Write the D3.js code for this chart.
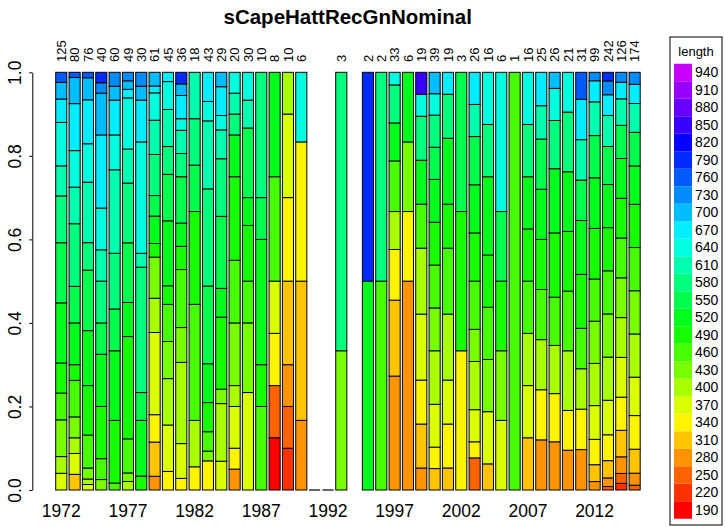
<!DOCTYPE html>
<html>
<head>
<meta charset="utf-8">
<script src="https://cdn.jsdelivr.net/npm/d3@7"></script>
<style>
  body { margin: 0; background: #fff; }
  text { font-family: Arial, "Liberation Sans", sans-serif; }
</style>
</head>
<body>
<svg id="chart" width="725" height="527"></svg>
<script>
const years = d3.range(1972, 2016);
const sampleSize = [125, 80, 76, 40, 60, 49, 30, 61, 45, 36, 18, 43, 29, 20, 30, 10, 8, 10, 6,
  null, null, 3, null, 2, 2, 33, 6, 19, 39, 19, 3, 26, 16, 6, 1, 16, 25, 26, 21, 31, 99, 242, 126, 174];
const lengthBins = d3.range(190, 941, 30);
const yTicks = [0, 0.2, 0.4, 0.6, 0.8, 1.0];
const tickYears = [1972, 1977, 1982, 1987, 1992, 1997, 2002, 2007, 2012];

// [length bin, fish count] per year; [] = sampled but empty, null = no bar
const lengthCounts = [
  [[370,5],[400,5],[430,11],[460,8],[490,9],[520,18],[550,18],[580,14],[610,9],[640,13],[670,7],[700,5],[760,3]],
  [[310,3],[370,4],[400,3],[430,4],[460,7],[490,3],[520,8],[550,7],[580,12],[610,7],[640,7],[670,9],[700,5],[760,1]],
  [[370,1],[400,1],[430,2],[460,6],[490,9],[520,10],[550,11],[580,5],[610,11],[640,7],[670,8],[700,4],[760,1]],
  [[430,1],[460,2],[490,5],[520,5],[550,3],[580,4],[610,3],[640,4],[670,7],[700,4],[730,1],[790,1]],
  [[460,1],[490,9],[520,10],[550,6],[580,8],[610,12],[640,5],[670,5],[700,2],[730,2]],
  [[400,1],[430,1],[460,4],[490,12],[520,4],[550,7],[580,7],[610,4],[640,6],[670,1],[700,1],[730,1]],
  [[490,1],[520,4],[550,2],[580,9],[610,1],[640,8],[670,3],[700,1],[730,1]],
  [[280,2],[310,5],[340,4],[370,12],[400,5],[430,6],[490,2],[520,4],[550,3],[580,6],[610,5],[640,4],[670,1],[700,2]],
  [[340,2],[370,5],[400,5],[430,4],[460,4],[490,2],[520,7],[550,5],[580,3],[610,4],[640,3],[670,1]],
  [[340,1],[370,3],[400,7],[430,3],[460,5],[490,2],[520,2],[550,4],[580,2],[610,2],[640,1],[670,2],[700,1],[790,1]],
  [[340,1],[400,2],[460,5],[490,4],[550,2],[580,2],[610,2]],
  [[340,3],[430,1],[460,2],[490,3],[520,4],[550,8],[580,10],[610,7],[640,2],[670,3]],
  [[370,2],[400,4],[430,1],[490,5],[520,2],[550,5],[580,4],[610,2],[640,1],[670,2],[700,1]],
  [[280,1],[340,1],[370,2],[400,1],[430,3],[460,3],[490,4],[520,2],[580,1],[610,1],[640,1]],
  [[370,7],[430,5],[460,3],[490,4],[520,2],[550,5],[610,2],[640,2]],
  [[460,2],[490,1],[520,3],[550,1],[580,3]],
  [[190,1],[250,1],[340,1],[370,1],[460,2],[520,2]],
  [[220,1],[250,1],[280,1],[310,2],[340,2],[370,2],[400,1]],
  [[280,1],[310,2],[340,2],[640,1]],
  [],
  [],
  [[430,1],[580,2]],
  null,
  [[520,1],[790,1]],
  [[460,1],[580,1]],
  [[280,9],[310,6],[340,4],[400,3],[460,4],[520,3],[580,3],[640,1]],
  [[280,3],[340,1],[430,1],[520,1]],
  [[280,1],[310,2],[340,2],[370,3],[400,3],[460,2],[520,2],[580,2],[640,1],[850,1]],
  [[310,2],[340,2],[370,4],[400,5],[430,4],[460,4],[490,4],[520,4],[550,3],[580,3],[640,2],[700,2]],
  [[310,1],[340,2],[370,2],[400,3],[460,3],[490,2],[520,3],[580,2],[670,1]],
  [[340,1],[490,1],[550,1]],
  [[250,2],[340,1],[370,2],[400,3],[430,2],[460,3],[490,3],[520,3],[550,3],[610,2],[670,2]],
  [[310,1],[370,2],[430,2],[460,2],[490,2],[520,3],[580,2],[640,2]],
  [[370,1],[430,1],[490,1],[550,1],[640,2]],
  [[460,1]],
  [[310,2],[370,2],[400,2],[460,2],[490,2],[520,2],[580,2],[640,2]],
  [[280,3],[340,3],[400,3],[460,3],[490,3],[520,3],[550,3],[610,2],[670,2]],
  [[280,3],[340,3],[400,3],[460,3],[490,4],[520,4],[580,3],[640,2],[700,1]],
  [[280,2],[340,2],[400,3],[460,3],[490,3],[520,3],[580,3],[640,2]],
  [[280,3],[340,3],[400,3],[460,3],[490,4],[520,4],[550,3],[610,3],[670,3],[760,2]],
  [[280,2],[310,4],[340,6],[370,8],[400,10],[430,10],[460,10],[490,12],[520,12],[550,10],[610,8],[670,5],[730,2]],
  [[250,2],[280,5],[310,10],[340,15],[370,20],[400,25],[430,25],[460,25],[490,25],[520,25],[550,22],[610,18],[670,12],[730,8],[790,5]],
  [[220,2],[250,3],[280,5],[310,8],[340,10],[370,12],[400,12],[430,12],[460,12],[490,12],[520,12],[550,10],[610,8],[670,5],[730,3]],
  [[250,2],[280,5],[310,10],[340,14],[370,16],[400,18],[430,18],[460,18],[490,18],[520,16],[550,14],[610,12],[670,8],[730,5]]
];

const svg = d3.select('#chart');

const x = d3.scaleBand()
  .domain(years)
  .range([53.5, 642.4])
  .paddingInner(1 / 6)
  .paddingOuter(1 / 6);

const y = d3.scaleLinear()
  .domain([0, 1])
  .range([490, 72.3]);

const hue = d3.scaleLinear().domain([190, 940]).range([0, 287.5]);
const colorOf = bin => d3.hsl(hue(bin), 1, 0.5).formatHex();

// stack each year into proportions
const stacked = years.map((yr, i) => {
  const rows = lengthCounts[i];
  if (rows === null) return { year: yr, segs: null };
  const total = d3.sum(rows, r => r[1]);
  let acc = 0;
  const segs = rows.slice().sort((a, b) => a[0] - b[0]).map(([bin, n]) => {
    const y0 = acc / total;
    acc += n;
    return { bin, y0, y1: acc / total };
  });
  return { year: yr, segs };
});

// bars
const bars = svg.append('g').attr('class', 'bars');
stacked.forEach(d => {
  if (d.segs === null) return;
  if (d.segs.length === 0) {
    bars.append('line')
      .attr('x1', x(d.year)).attr('x2', x(d.year) + x.bandwidth())
      .attr('y1', y(0)).attr('y2', y(0))
      .attr('stroke', '#000').attr('stroke-width', 1.2);
    return;
  }
  bars.selectAll(null)
    .data(d.segs)
    .enter()
    .append('rect')
    .attr('x', x(d.year))
    .attr('width', x.bandwidth())
    .attr('y', s => y(s.y1))
    .attr('height', s => y(s.y0) - y(s.y1))
    .attr('fill', s => colorOf(s.bin))
    .attr('stroke', '#000')
    .attr('stroke-width', 1);
});

// sample size labels
svg.append('g')
  .selectAll('text')
  .data(years.map((yr, i) => ({ yr, n: sampleSize[i] })).filter(d => d.n !== null))
  .enter()
  .append('text')
  .attr('transform', d => `translate(${x(d.yr) + x.bandwidth() / 2}, 62) rotate(-90)`)
  .attr('dy', '0.35em')
  .attr('font-size', 13)
  .text(d => d.n);

// y axis
const yAxis = svg.append('g')
  .attr('transform', 'translate(32.3, 0)')
  .call(d3.axisLeft(y).tickValues(yTicks).tickFormat(d3.format('.1f')).tickSize(3).tickSizeOuter(0));
yAxis.select('.domain').attr('stroke', '#000');
yAxis.selectAll('.tick text')
  .attr('x', null).attr('dy', null)
  .attr('transform', 'translate(-17, 0) rotate(-90)')
  .attr('text-anchor', 'middle')
  .attr('dy', '0.35em')
  .attr('font-size', 17.5)
  .attr('fill', '#000');

// year labels
svg.append('g')
  .selectAll('text')
  .data(tickYears)
  .enter()
  .append('text')
  .attr('x', d => x(d) + x.bandwidth() / 2)
  .attr('y', 517)
  .attr('text-anchor', 'middle')
  .attr('font-size', 17.5)
  .text(d => d);

// title
svg.append('text')
  .attr('x', 347.7)
  .attr('y', 24)
  .attr('text-anchor', 'middle')
  .attr('font-size', 20.5)
  .attr('font-weight', 'bold')
  .text('sCapeHattRecGnNominal');

// legend
const legend = svg.append('g');
legend.append('rect')
  .attr('x', 670).attr('y', 37)
  .attr('width', 52).attr('height', 488)
  .attr('fill', 'none').attr('stroke', '#000');
legend.append('text')
  .attr('x', 696).attr('y', 56)
  .attr('text-anchor', 'middle')
  .attr('font-size', 13)
  .text('length');
const legendY = d3.scaleBand()
  .domain(lengthBins.slice().reverse())
  .range([63.75, 518.75]);
legend.selectAll('rect.sw')
  .data(lengthBins)
  .enter()
  .append('rect')
  .attr('class', 'sw')
  .attr('x', 674).attr('width', 18)
  .attr('y', d => legendY(d))
  .attr('height', legendY.bandwidth())
  .attr('fill', d => colorOf(d));
legend.selectAll('text.lab')
  .data(lengthBins)
  .enter()
  .append('text')
  .attr('class', 'lab')
  .attr('x', 695)
  .attr('y', d => legendY(d) + legendY.bandwidth() / 2)
  .attr('dy', '0.35em')
  .attr('font-size', 14)
  .text(d => d);
</script>
</body>
</html>
